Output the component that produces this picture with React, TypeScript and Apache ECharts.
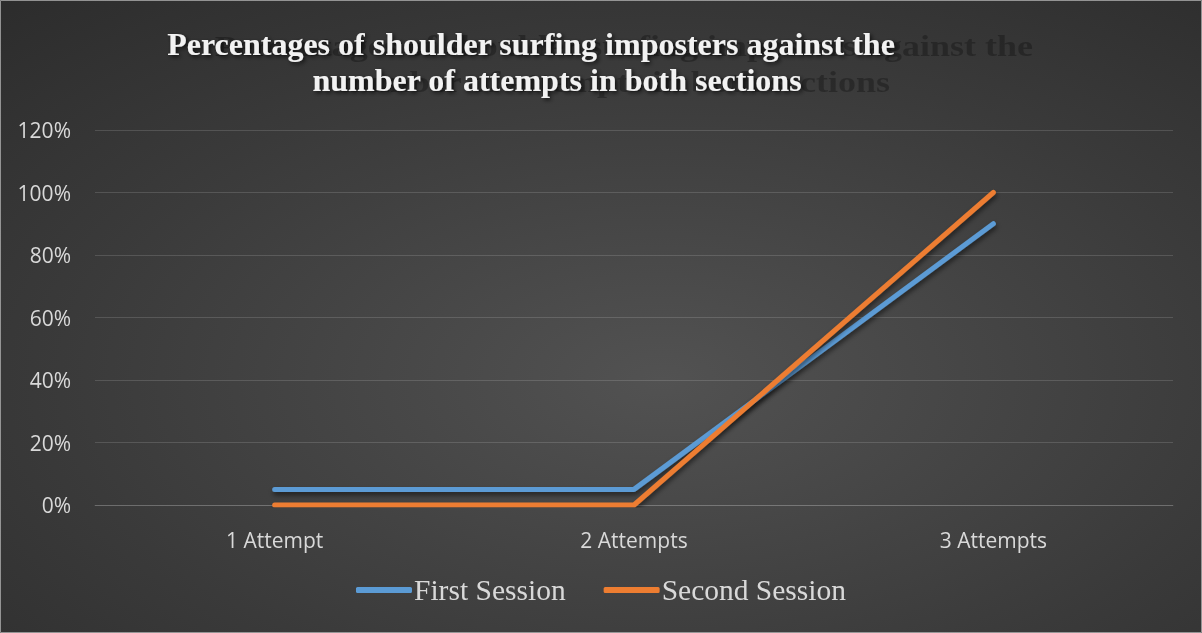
import React, { useEffect, useRef } from "react";
import * as echarts from "echarts";

const categories = ["1 Attempt", "2 Attempts", "3 Attempts"];
const firstSession = [5, 5, 90];
const secondSession = [0, 0, 100];
const seriesNames = ["First Session", "Second Session"];
const titleLines = [
  "Percentages of shoulder surfing imposters against the",
  "number of attempts in both sections",
];

const SERIF = "'Liberation Serif', 'Times New Roman', serif";
const SANS = "'Open Sans', 'Noto Sans', sans-serif";

export default function App() {
  const ref = useRef<HTMLDivElement>(null);

  useEffect(() => {
    if (!ref.current) return;
    const chart = echarts.init(ref.current, undefined, { renderer: "svg" });

    const lineStyle = (color: string) => ({
      color,
      width: 5,
      cap: "round" as const,
      join: "round" as const,
      shadowColor: "rgba(0,0,0,0.55)",
      shadowBlur: 5,
      shadowOffsetX: 1,
      shadowOffsetY: 3,
    });

    const echo = (text: string, x: number, y: number) => ({
      type: "text",
      silent: true,
      x,
      y,
      scaleX: 1.2,
      style: {
        text,
        font: `bold 30px ${SERIF}`,
        fill: "rgba(0,0,0,0.28)",
        textAlign: "right",
        textVerticalAlign: "middle",
      },
    });

    const heading = (text: string, x: number, y: number) => ({
      type: "text",
      silent: true,
      x,
      y,
      style: {
        text,
        font: `bold 32px ${SERIF}`,
        fill: "#f2f2f2",
        textAlign: "center",
        textVerticalAlign: "middle",
        textShadowColor: "rgba(0,0,0,0.7)",
        textShadowBlur: 4,
        textShadowOffsetX: 2,
        textShadowOffsetY: 2,
      },
    });

    chart.setOption({
      animation: false,
      backgroundColor: {
        type: "radial",
        x: 0.55,
        y: 0.6,
        r: 1,
        colorStops: [
          { offset: 0, color: "#525252" },
          { offset: 0.5, color: "#3a3a3a" },
          { offset: 1, color: "#242424" },
        ],
      },
      graphic: [
        {
          type: "rect",
          silent: true,
          shape: { x: 0.5, y: 0.5, width: 1201, height: 632 },
          style: { fill: "none", stroke: "rgba(190,190,190,0.7)", lineWidth: 1 },
        },
        // faint echo of the heading behind it
        echo(titleLines[0], 1033, 46),
        echo(titleLines[1], 890, 82),
        heading(titleLines[0], 531, 44),
        heading(titleLines[1], 557, 80),
      ],
      grid: { left: 95, right: 29, top: 130, bottom: 128, containLabel: false },
      xAxis: {
        type: "category",
        data: categories,
        boundaryGap: true,
        axisLine: { show: true, lineStyle: { color: "rgba(255,255,255,0.14)", width: 1 } },
        axisTick: { show: false },
        axisLabel: { color: "#d9d9d9", fontFamily: SANS, fontSize: 21, margin: 24 },
      },
      yAxis: {
        type: "value",
        min: 0,
        max: 120,
        interval: 20,
        axisLine: { show: false },
        axisTick: { show: false },
        splitLine: { lineStyle: { color: "rgba(255,255,255,0.14)", width: 1 } },
        axisLabel: {
          color: "#d9d9d9",
          fontFamily: SANS,
          fontSize: 21,
          margin: 24,
          formatter: "{value}%",
        },
      },
      legend: {
        bottom: 23,
        left: "center",
        icon: "roundRect",
        itemWidth: 56,
        itemHeight: 6,
        itemGap: 38,
        textStyle: { color: "#d9d9d9", fontFamily: SERIF, fontSize: 29.5, padding: [0, 0, 0, -3] },
        data: seriesNames,
      },
      series: [
        {
          name: seriesNames[0],
          type: "line",
          data: firstSession,
          symbol: "none",
          color: "#5b9bd5",
          lineStyle: lineStyle("#5b9bd5"),
        },
        {
          name: seriesNames[1],
          type: "line",
          data: secondSession,
          symbol: "none",
          color: "#ed7d31",
          lineStyle: lineStyle("#ed7d31"),
        },
      ],
    });

    return () => chart.dispose();
  }, []);

  return (
    <div
      ref={ref}
      style={{ position: "fixed", left: 0, top: 0, width: 1202, height: 633 }}
    />
  );
}
